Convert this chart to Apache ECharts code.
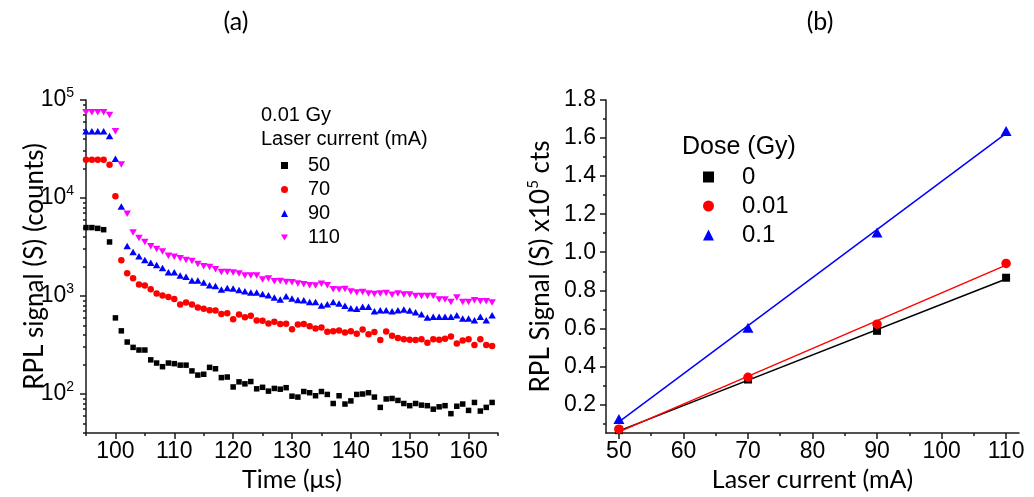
<!DOCTYPE html>
<html><head><meta charset="utf-8">
<script src="https://cdn.jsdelivr.net/npm/echarts@6/dist/echarts.min.js"></script>
<style>html,body{margin:0;padding:0;background:#fff}#c{width:1034px;height:497px}</style>
</head><body><div id="c"></div>
<script>
// ---------- panel (a) data ----------
const timeUs = [95,96,97,98,99,100,101,102,103,104,105,106,107,108,109,110,111,112,113,114,
  115,116,117,118,119,120,121,122,123,124,125,126,127,128,129,130,131,132,133,134,
  135,136,137,138,139,140,141,142,143,144,145,146,147,148,149,150,151,152,153,154,
  155,156,157,158,159,160,161,162,163,164];
const s50 = [4990,4990,4900,4750,3560,598,441,339,299,281,
  281,223,207,190,207,204,197,197,172,156,
  159,187,181,147,149,118,133,127,134,113,
  117,107,114,112,116,95,93,106,103,96,
  106,99,80,96,79,85,99,100,103,93,
  73,89,90,86,80,76,80,77,76,70,
  74,76,63,75,79,68,82,67,73,82];
const s70 = [24500,24500,24500,24500,21800,10450,2320,1706,1518,1309,
  1279,1173,1060,1011,979,934,819,859,819,764,
  739,716,711,657,668,580,648,608,627,563,
  560,524,545,517,520,458,513,517,492,467,
  478,431,438,445,425,438,411,456,408,428,
  355,435,393,372,361,357,355,361,333,361,
  357,366,387,328,352,361,316,361,316,308];
const s90 = [48000,48000,48000,48000,43000,25100,8200,3240,2810,2540,
  2330,2190,2075,1930,1750,1750,1620,1570,1437,1437,
  1371,1288,1267,1164,1209,1191,1153,1119,1086,1086,
  1050,1020,966,921,995,945,912,906,871,871,
  800,825,871,838,793,751,739,775,775,700,
  716,716,700,716,728,711,684,653,604,613,
  613,613,613,637,590,590,567,613,567,637];
const s110 = [75000,75000,75000,75000,70500,48000,22000,6900,4440,3900,
  3560,3220,3020,2840,2580,2520,2425,2330,2275,2120,
  2010,1977,1873,1760,1760,1733,1693,1617,1617,1617,
  1472,1507,1415,1426,1393,1383,1340,1318,1288,1279,
  1330,1288,1173,1164,1182,1111,1084,1101,1060,1051,
  1060,1076,1028,1060,1035,1035,1002,1002,1002,1002,
  921,921,871,966,871,871,906,885,885,859];
const currentNamesA = ['50','70','90','110'];
const timeTicks = [100,110,120,130,140,150,160];
const timeMinorTicks = [95,105,115,125,135,145,155,165];
const countDecades = [2,3,4,5];          // 10^2 ... 10^5
const countMin = 40, countMax = 100000;

// ---------- panel (b) data ----------
const laserCurrent = [50,70,90,110];
const dose0   = [0.065,0.331,0.587,0.866];
const dose001 = [0.070,0.343,0.622,0.941];
const dose01  = [0.123,0.603,1.104,1.637];
const fitX    = [50,110];
const fit0    = [0.061,0.859];
const fit001  = [0.056,0.932];
const fit01   = [0.108,1.625];
const doseNames = ['0','0.01','0.1'];
const currentTicks = [50,60,70,80,90,100,110];
const currentMinorTicks = [55,65,75,85,95,105];
const signalTicks = [0.2,0.4,0.6,0.8,1.0,1.2,1.4,1.6,1.8];
const signalMinorTicks = [0.1,0.3,0.5,0.7,0.9,1.1,1.3,1.5,1.7];

// ---------- chart ----------
const AX = '#1a1a1a';
const NUMF = 'Liberation Sans, Arial, sans-serif';
const TITF = 'Lato, sans-serif';
const tickLabel = {fontFamily: NUMF, fontSize: 23, color: '#000'};
const lineSt = {color: AX, width: 1.5};

const minorLog = [];
countDecades.forEach(d => {
  for (let k = 2; k <= 9; k++) {
    const v = Math.log10(k * Math.pow(10, d - 1));
    if (v >= Math.log10(countMin) && v <= Math.log10(countMax)) minorLog.push(v);
  }
});

const downTri = 'path://M0,0L10,0L5,8.66Z';
const pts = arr => timeUs.map((t, i) => [t, arr[i]]);
const ptsB = arr => laserCurrent.map((x, i) => [x, arr[i]]);
const fitPts = arr => fitX.map((x, i) => [x, arr[i]]);
const solid = c => ({color: c, opacity: 1});

const chart = echarts.init(document.getElementById('c'));
chart.setOption({
  animation: false,
  backgroundColor: '#fff',
  grid: [
    {left: 86, top: 100, width: 412, height: 333, outerBoundsMode: 'none'},
    {left: 606, top: 100, width: 413, height: 333, outerBoundsMode: 'none'}
  ],
  graphic: [
    {type: 'text', x: 236, y: 22, style: {text: '(a)', font: '25px ' + TITF, fill: '#000', align: 'center', verticalAlign: 'middle'}},
    {type: 'text', x: 820, y: 22, style: {text: '(b)', font: '25px ' + TITF, fill: '#000', align: 'center', verticalAlign: 'middle'}},
    {type: 'text', x: 261, y: 115, style: {text: '0.01 Gy', font: '20px ' + NUMF, fill: '#000', verticalAlign: 'middle'}},
    {type: 'text', x: 261, y: 139, style: {text: 'Laser current (mA)', font: '20px ' + NUMF, fill: '#000', verticalAlign: 'middle'}},
    {type: 'text', x: 682, y: 147, style: {text: 'Dose (Gy)', font: '25px ' + NUMF, fill: '#000', verticalAlign: 'middle'}}
  ],
  legend: [
    {data: currentNamesA, orient: 'vertical', left: 276, top: 150, itemWidth: 7, itemHeight: 7,
     itemGap: 3, selectedMode: false,
     textStyle: {fontFamily: NUMF, fontSize: 20, color: '#000', lineHeight: 21, padding: [0, 0, 0, 15]}},
    {data: doseNames, orient: 'vertical', left: 698, top: 160, itemWidth: 11, itemHeight: 11,
     itemGap: 5, selectedMode: false,
     textStyle: {fontFamily: NUMF, fontSize: 24, color: '#000', lineHeight: 24, padding: [0, 0, 0, 23]}}
  ],
  xAxis: [
    {type: 'value', gridIndex: 0, position: 'bottom', min: 95, max: 165,
     axisLine: {onZero: false, lineStyle: lineSt},
     axisTick: {customValues: timeTicks, length: 6, lineStyle: lineSt},
     axisLabel: {customValues: timeTicks, margin: 7, ...tickLabel},
     splitLine: {show: false},
     name: 'Time (μs)', nameLocation: 'middle', nameGap: 34, nameMoveOverlap: false,
     nameTextStyle: {fontFamily: TITF, fontSize: 25, color: '#000'}},
    {type: 'value', gridIndex: 0, position: 'bottom', min: 95, max: 165,
     axisLine: {show: false, onZero: false},
     axisTick: {customValues: timeMinorTicks, length: 3, lineStyle: lineSt},
     axisLabel: {show: false}, splitLine: {show: false}},
    {type: 'value', gridIndex: 1, position: 'bottom', min: 48, max: 112,
     axisLine: {onZero: false, lineStyle: lineSt},
     axisTick: {customValues: currentTicks, length: 6, lineStyle: lineSt},
     axisLabel: {customValues: currentTicks, margin: 7, ...tickLabel},
     splitLine: {show: false},
     name: 'Laser current (mA)', nameLocation: 'middle', nameGap: 34, nameMoveOverlap: false,
     nameTextStyle: {fontFamily: TITF, fontSize: 25, color: '#000'}},
    {type: 'value', gridIndex: 1, position: 'bottom', min: 48, max: 112,
     axisLine: {show: false, onZero: false},
     axisTick: {customValues: currentMinorTicks, length: 3, lineStyle: lineSt},
     axisLabel: {show: false}, splitLine: {show: false}}
  ],
  yAxis: [
    {type: 'log', gridIndex: 0, position: 'left', min: countMin, max: countMax, show: false},
    {type: 'value', gridIndex: 0, position: 'left', min: Math.log10(countMin), max: Math.log10(countMax),
     axisLine: {show: true, onZero: false, lineStyle: lineSt},
     axisTick: {customValues: countDecades, length: 6, lineStyle: lineSt},
     axisLabel: {customValues: countDecades, margin: 12,
       formatter: v => '{b|10}{s|' + Math.round(v) + '}',
       rich: {b: {fontFamily: NUMF, fontSize: 23, color: '#000', lineHeight: 28},
              s: {fontFamily: NUMF, fontSize: 14, color: '#000', lineHeight: 14, verticalAlign: 'top'}}},
     splitLine: {show: false},
     name: 'RPL signal (S) (counts)', nameLocation: 'middle', nameRotate: 90, nameGap: 38, nameMoveOverlap: false,
     nameTextStyle: {fontFamily: TITF, fontSize: 26, color: '#000'}},
    {type: 'value', gridIndex: 0, position: 'left', min: Math.log10(countMin), max: Math.log10(countMax),
     axisLine: {show: false, onZero: false},
     axisTick: {customValues: minorLog, length: 3, lineStyle: lineSt},
     axisLabel: {show: false}, splitLine: {show: false}},
    {type: 'value', gridIndex: 1, position: 'left', min: 0.05, max: 1.8,
     axisLine: {show: true, onZero: false, lineStyle: lineSt},
     axisTick: {customValues: signalTicks, length: 6, lineStyle: lineSt},
     axisLabel: {customValues: signalTicks, margin: 10, formatter: v => v.toFixed(1), ...tickLabel},
     splitLine: {show: false},
     name: '{n|RPL Signal (S) x10}{s|5}{n| cts}', nameLocation: 'middle', nameRotate: 90, nameGap: 50,
     nameMoveOverlap: false,
     nameTextStyle: {fontFamily: TITF, fontSize: 26, color: '#000',
       rich: {n: {fontFamily: TITF, fontSize: 26, color: '#000', lineHeight: 30},
              s: {fontFamily: TITF, fontSize: 15, color: '#000', lineHeight: 15, verticalAlign: 'top'}}}},
    {type: 'value', gridIndex: 1, position: 'left', min: 0.05, max: 1.8,
     axisLine: {show: false, onZero: false},
     axisTick: {customValues: signalMinorTicks, length: 3, lineStyle: lineSt},
     axisLabel: {show: false}, splitLine: {show: false}}
  ],
  series: [
    {name: '50', type: 'scatter', xAxisIndex: 0, yAxisIndex: 0, data: pts(s50),
     symbol: 'rect', symbolSize: 5.5, itemStyle: solid('#000000')},
    {name: '70', type: 'scatter', xAxisIndex: 0, yAxisIndex: 0, data: pts(s70),
     symbol: 'circle', symbolSize: 6.5, itemStyle: solid('#ff0000')},
    {name: '90', type: 'scatter', xAxisIndex: 0, yAxisIndex: 0, data: pts(s90),
     symbol: 'triangle', symbolSize: [7.5, 6.5], itemStyle: solid('#0000ff')},
    {name: '110', type: 'scatter', xAxisIndex: 0, yAxisIndex: 0, data: pts(s110),
     symbol: downTri, symbolSize: [7.5, 6.5], itemStyle: solid('#ff00ff')},

    {name: 'fit0', type: 'line', xAxisIndex: 2, yAxisIndex: 3, data: fitPts(fit0), symbol: 'none',
     lineStyle: {color: '#000000', width: 1.5}, z: 2, silent: true},
    {name: 'fit001', type: 'line', xAxisIndex: 2, yAxisIndex: 3, data: fitPts(fit001), symbol: 'none',
     lineStyle: {color: '#ff0000', width: 1.5}, z: 2, silent: true},
    {name: 'fit01', type: 'line', xAxisIndex: 2, yAxisIndex: 3, data: fitPts(fit01), symbol: 'none',
     lineStyle: {color: '#0000ff', width: 1.5}, z: 2, silent: true},
    {name: '0', type: 'scatter', xAxisIndex: 2, yAxisIndex: 3, data: ptsB(dose0),
     symbol: 'rect', symbolSize: 8, itemStyle: solid('#000000'), z: 3},
    {name: '0.01', type: 'scatter', xAxisIndex: 2, yAxisIndex: 3, data: ptsB(dose001),
     symbol: 'circle', symbolSize: 9.5, itemStyle: solid('#ff0000'), z: 3},
    {name: '0.1', type: 'scatter', xAxisIndex: 2, yAxisIndex: 3, data: ptsB(dose01),
     symbol: 'triangle', symbolSize: [11, 10], itemStyle: solid('#0000ff'), z: 3}
  ]
});
</script>
</body></html>
